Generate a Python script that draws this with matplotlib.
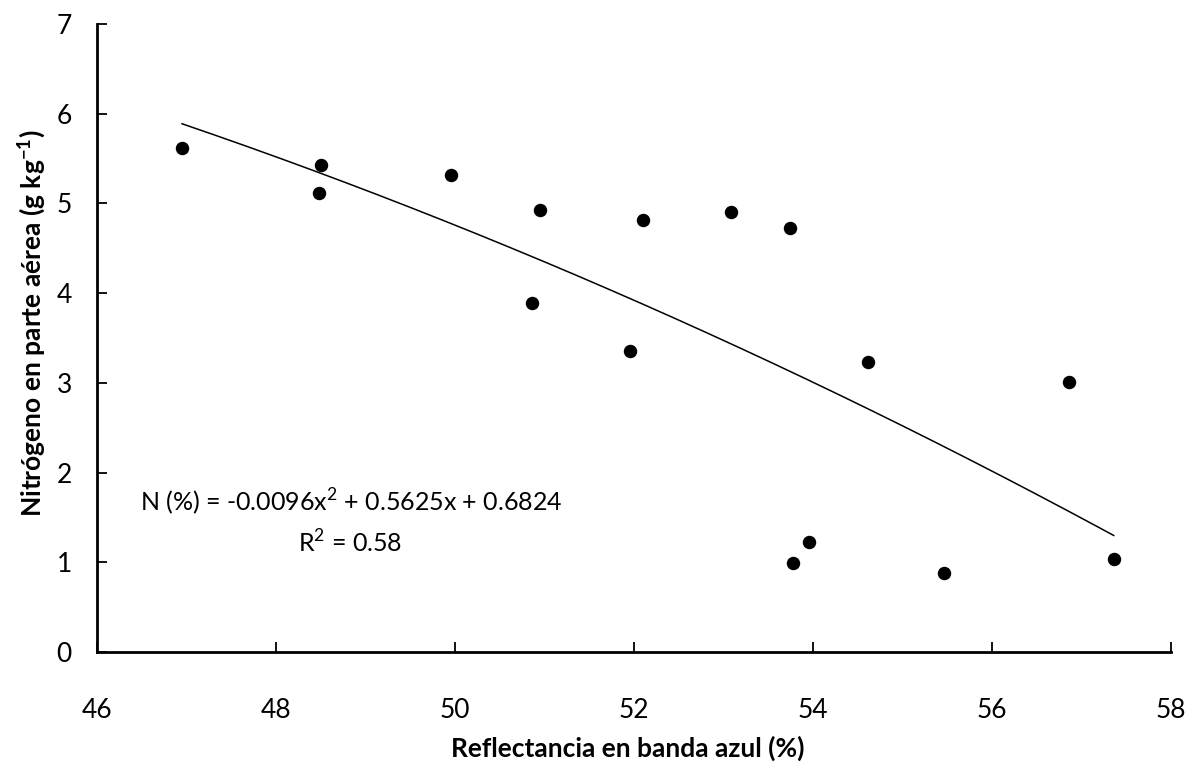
import matplotlib.pyplot as plt
import numpy as np

plt.rcParams['font.family'] = ['Lato', 'DejaVu Sans']
plt.rcParams['mathtext.fontset'] = 'custom'
plt.rcParams['mathtext.rm'] = 'Lato'
plt.rcParams['mathtext.bf'] = 'Lato:bold'

# Datos: reflectancia en banda azul (%) y N en parte aérea
reflectancia = [46.95, 48.50, 48.48, 49.96, 50.95, 52.10, 53.08, 53.74,
                50.86, 51.95, 54.61, 56.86, 53.96, 53.78, 55.46, 57.36]
nitrogeno = [5.62, 5.43, 5.12, 5.32, 4.93, 4.82, 4.91, 4.73,
             3.89, 3.36, 3.23, 3.01, 1.23, 0.99, 0.88, 1.04]

x_ticks = [46, 48, 50, 52, 54, 56, 58]
y_ticks = [0, 1, 2, 3, 4, 5, 6, 7]

W, H = 1192, 766
fig = plt.figure(figsize=(W / 100, H / 100), dpi=100)
ax = fig.add_axes([97 / W, 1 - 652 / H, 1074 / W, 628 / H])

ax.scatter(reflectancia, nitrogeno, s=75, color='black', zorder=3)

# Línea de tendencia polinómica de orden 2 (ajuste de los puntos)
coef = np.polyfit(reflectancia, nitrogeno, 2)
xs = np.linspace(min(reflectancia), max(reflectancia), 200)
ax.plot(xs, np.polyval(coef, xs), color='black', linewidth=1.1)

ax.text(46.48, 1.68, 'N (%) = -0.0096x$^{2}$ + 0.5625x + 0.6824',
        fontsize=18, va='center', ha='left')
ax.text(48.25, 1.21, 'R$^{2}$ = 0.58', fontsize=18, va='center', ha='left')

ax.set_xlim(46, 58)
ax.set_ylim(0, 7)
ax.set_xticks(x_ticks)
ax.set_yticks(y_ticks)
ax.tick_params(axis='both', direction='in', length=7, width=1.3,
               labelsize=19)
ax.tick_params(axis='x', pad=33)
ax.tick_params(axis='y', pad=18)

for s in ['top', 'right']:
    ax.spines[s].set_visible(False)
for s in ['left', 'bottom']:
    ax.spines[s].set_linewidth(2)

fig.text(628 / W, 1 - 748 / H, 'Reflectancia en banda azul (%)',
         fontsize=19, fontweight='bold', ha='center', va='center')
fig.text(32 / W, 1 - 323 / H,
         'Nitrógeno en parte aérea (g kg$^{\\mathbf{-1}}$)',
         fontsize=19, fontweight='bold', ha='center', va='center',
         rotation=90)

fig.savefig('out.png', dpi=100)
